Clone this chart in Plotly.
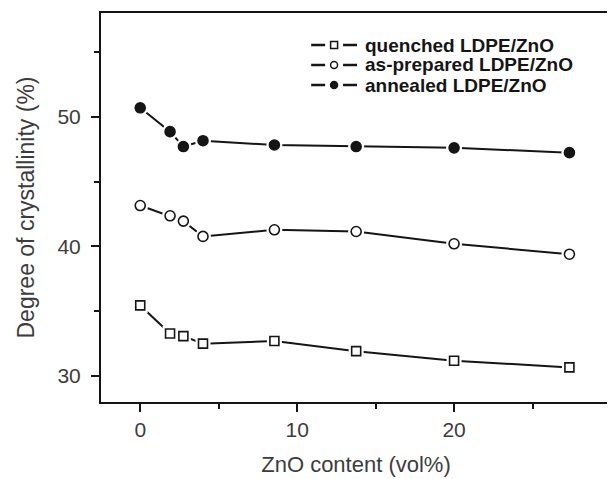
import plotly.graph_objects as go

# ---- data ----
zno_content = [0, 1.9, 2.75, 4.0, 8.55, 13.76, 20.0, 27.35]
quenched = [35.45, 33.28, 33.08, 32.5, 32.7, 31.92, 31.18, 30.67]
as_prepared = [43.15, 42.36, 41.95, 40.77, 41.28, 41.15, 40.2, 39.4]
annealed = [50.69, 48.85, 47.7, 48.15, 47.82, 47.7, 47.6, 47.23]

series_names = ["quenched LDPE/ZnO", "as-prepared LDPE/ZnO", "annealed LDPE/ZnO"]
series_values = [quenched, as_prepared, annealed]
series_symbols = ["square-open", "circle-open", "circle"]
series_sizes = [9, 10, 10]

x_ticks = [0, 10, 20]
y_ticks = [30, 40, 50]

INK = "#151515"
LABEL = "#3c3c3c"
FONT = "Liberation Sans, Arial, sans-serif"

# page body adds an 8px offset; compensate so the plot lands where the reference has it
OFF = 8
W, H = 615 - OFF, 479 - OFF
ml, mr, mt, mb = 101 - OFF, 2, 13 - OFF, 77
pw, ph = W - ml - mr, H - mt - mb

fig = go.Figure()
for name, vals, sym, sz in zip(series_names, series_values, series_symbols, series_sizes):
    # connecting line
    fig.add_trace(go.Scatter(x=zno_content, y=vals, mode="lines",
                             line=dict(color=INK, width=2), showlegend=False,
                             hoverinfo="skip"))
    # white halo so the line stops short of each marker
    fig.add_trace(go.Scatter(x=zno_content, y=vals, mode="markers",
                             marker=dict(symbol="circle" if "circle" in sym else "square",
                                         size=sz + 6, color="white", line=dict(width=0)),
                             showlegend=False, hoverinfo="skip"))
    # markers
    fig.add_trace(go.Scatter(x=zno_content, y=vals, mode="markers", name=name,
                             marker=dict(symbol=sym, size=sz, color=INK,
                                         line=dict(color=INK, width=1.6)),
                             showlegend=False))

# ---- hand-built legend (tight row spacing as in the reference) ----
row_y = [45, 65, 85]  # pixel rows from top of the reference image


def px_to_paper(px, py):
    return (px - OFF - ml) / pw, 1 - (py - OFF - mt) / ph


for name, sym, ry in zip(series_names, series_symbols, row_y):
    x0, y0 = px_to_paper(312, ry)
    x1, _ = px_to_paper(326, ry)
    x2, _ = px_to_paper(344, ry)
    x3, _ = px_to_paper(358, ry)
    xc, _ = px_to_paper(335, ry)
    for a, b in [(x0, x1), (x2, x3)]:
        fig.add_shape(type="line", xref="paper", yref="paper", x0=a, x1=b, y0=y0, y1=y0,
                      line=dict(color=INK, width=2.5))
    dx = 3.5 / pw
    dy = 3.5 / ph
    if sym == "square-open":
        fig.add_shape(type="rect", xref="paper", yref="paper", x0=xc - dx, x1=xc + dx,
                      y0=y0 - dy, y1=y0 + dy, line=dict(color=INK, width=1.5),
                      fillcolor="white")
    else:
        fig.add_shape(type="circle", xref="paper", yref="paper", x0=xc - dx, x1=xc + dx,
                      y0=y0 - dy, y1=y0 + dy, line=dict(color=INK, width=1.5),
                      fillcolor="white" if sym == "circle-open" else INK)
    tx, _ = px_to_paper(364, ry)
    fig.add_annotation(x=tx, y=y0, xref="paper", yref="paper", text="<b>" + name + "</b>",
                       showarrow=False, xanchor="left", yanchor="middle",
                       font=dict(family=FONT, size=19, color=INK))

axis_common = dict(
    showline=True, linecolor=INK, linewidth=2, mirror=True,
    ticks="outside", tickcolor=INK, tickwidth=2, ticklen=8,
    showgrid=False, zeroline=False,
    tickfont=dict(family=FONT, size=21, color=LABEL),
    minor=dict(ticks="outside", ticklen=5, tickwidth=2, tickcolor=INK, dtick=5, showgrid=False),
)

fig.update_xaxes(range=[-2.5, 30], tickvals=x_ticks, **axis_common,
                 title=dict(text="ZnO content (vol%)", standoff=16,
                            font=dict(family=FONT, size=22, color=LABEL)))
fig.update_yaxes(range=[28, 58], tickvals=y_ticks, ticklabelstandoff=6, **axis_common,
                 title=dict(text="Degree of crystallinity (%)", standoff=16,
                            font=dict(family=FONT, size=23, color=LABEL)))

fig.update_layout(width=W, height=H, margin=dict(l=ml, r=mr, t=mt, b=mb),
                  paper_bgcolor="white", plot_bgcolor="white", showlegend=False)

fig.write_html("out.html")
